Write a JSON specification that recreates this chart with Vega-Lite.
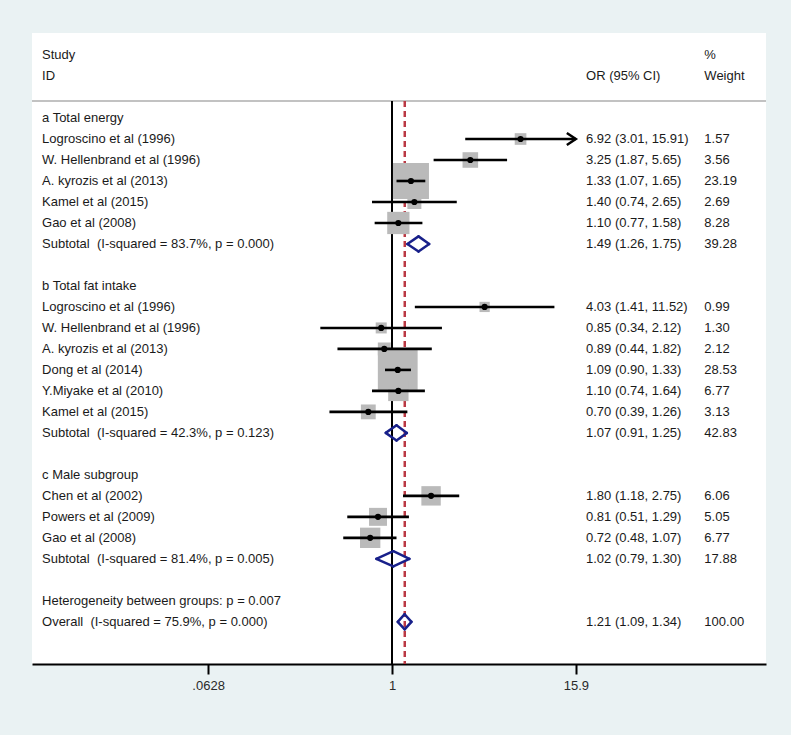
{
  "$schema": "https://vega.github.io/schema/vega-lite/v6.json",
  "width": 734,
  "height": 631,
  "autosize": {"type": "none"},
  "padding": {"left": 32, "top": 33, "right": 25, "bottom": 71},
  "background": "#eaf2f3",
  "config": {
    "view": {"fill": "white", "stroke": null},
    "text": {"font": "Liberation Sans", "fontSize": 13, "color": "#1a1a1a", "align": "left", "baseline": "middle"}
  },
  "data": {
    "values": [
      {"row": -3, "label": "Study", "ci": "", "wt": "%", "kind": "head"},
      {"row": -2, "label": "ID", "ci": "OR (95% CI)", "wt": "Weight", "kind": "head"},
      {"row": 0, "label": "a Total energy", "ci": "", "wt": "", "kind": "group"},
      {"row": 1, "label": "Logroscino et al (1996)", "est": 6.92, "lo": 3.01, "hi": 15.91, "w": 1.57, "ci": "6.92 (3.01, 15.91)", "wt": "1.57", "kind": "study"},
      {"row": 2, "label": "W. Hellenbrand et al (1996)", "est": 3.25, "lo": 1.87, "hi": 5.65, "w": 3.56, "ci": "3.25 (1.87, 5.65)", "wt": "3.56", "kind": "study"},
      {"row": 3, "label": "A. kyrozis et al (2013)", "est": 1.33, "lo": 1.07, "hi": 1.65, "w": 23.19, "ci": "1.33 (1.07, 1.65)", "wt": "23.19", "kind": "study"},
      {"row": 4, "label": "Kamel et al (2015)", "est": 1.40, "lo": 0.74, "hi": 2.65, "w": 2.69, "ci": "1.40 (0.74, 2.65)", "wt": "2.69", "kind": "study"},
      {"row": 5, "label": "Gao et al (2008)", "est": 1.10, "lo": 0.77, "hi": 1.58, "w": 8.28, "ci": "1.10 (0.77, 1.58)", "wt": "8.28", "kind": "study"},
      {"row": 6, "label": "Subtotal\u00a0 (I-squared = 83.7%, p = 0.000)", "est": 1.49, "lo": 1.26, "hi": 1.75, "w": 39.28, "ci": "1.49 (1.26, 1.75)", "wt": "39.28", "kind": "subtotal"},
      {"row": 8, "label": "b Total fat intake", "ci": "", "wt": "", "kind": "group"},
      {"row": 9, "label": "Logroscino et al (1996)", "est": 4.03, "lo": 1.41, "hi": 11.52, "w": 0.99, "ci": "4.03 (1.41, 11.52)", "wt": "0.99", "kind": "study"},
      {"row": 10, "label": "W. Hellenbrand et al (1996)", "est": 0.85, "lo": 0.34, "hi": 2.12, "w": 1.30, "ci": "0.85 (0.34, 2.12)", "wt": "1.30", "kind": "study"},
      {"row": 11, "label": "A. kyrozis et al (2013)", "est": 0.89, "lo": 0.44, "hi": 1.82, "w": 2.12, "ci": "0.89 (0.44, 1.82)", "wt": "2.12", "kind": "study"},
      {"row": 12, "label": "Dong et al (2014)", "est": 1.09, "lo": 0.90, "hi": 1.33, "w": 28.53, "ci": "1.09 (0.90, 1.33)", "wt": "28.53", "kind": "study"},
      {"row": 13, "label": "Y.Miyake et al (2010)", "est": 1.10, "lo": 0.74, "hi": 1.64, "w": 6.77, "ci": "1.10 (0.74, 1.64)", "wt": "6.77", "kind": "study"},
      {"row": 14, "label": "Kamel et al (2015)", "est": 0.70, "lo": 0.39, "hi": 1.26, "w": 3.13, "ci": "0.70 (0.39, 1.26)", "wt": "3.13", "kind": "study"},
      {"row": 15, "label": "Subtotal\u00a0 (I-squared = 42.3%, p = 0.123)", "est": 1.07, "lo": 0.91, "hi": 1.25, "w": 42.83, "ci": "1.07 (0.91, 1.25)", "wt": "42.83", "kind": "subtotal"},
      {"row": 17, "label": "c Male subgroup", "ci": "", "wt": "", "kind": "group"},
      {"row": 18, "label": "Chen et al (2002)", "est": 1.80, "lo": 1.18, "hi": 2.75, "w": 6.06, "ci": "1.80 (1.18, 2.75)", "wt": "6.06", "kind": "study"},
      {"row": 19, "label": "Powers et al (2009)", "est": 0.81, "lo": 0.51, "hi": 1.29, "w": 5.05, "ci": "0.81 (0.51, 1.29)", "wt": "5.05", "kind": "study"},
      {"row": 20, "label": "Gao et al (2008)", "est": 0.72, "lo": 0.48, "hi": 1.07, "w": 6.77, "ci": "0.72 (0.48, 1.07)", "wt": "6.77", "kind": "study"},
      {"row": 21, "label": "Subtotal\u00a0 (I-squared = 81.4%, p = 0.005)", "est": 1.02, "lo": 0.79, "hi": 1.30, "w": 17.88, "ci": "1.02 (0.79, 1.30)", "wt": "17.88", "kind": "subtotal"},
      {"row": 23, "label": "Heterogeneity between groups: p = 0.007", "ci": "", "wt": "", "kind": "het"},
      {"row": 24, "label": "Overall\u00a0 (I-squared = 75.9%, p = 0.000)", "est": 1.21, "lo": 1.09, "hi": 1.34, "w": 100, "ci": "1.21 (1.09, 1.34)", "wt": "100.00", "kind": "overall"}
    ]
  },
  "encoding": {
    "y": {"field": "row", "type": "quantitative", "axis": null,
          "scale": {"domain": [-4.05, 26.01], "reverse": true, "nice": false, "zero": false}}
  },
  "layer": [
    {
      "mark": {"type": "rule", "color": "#c2c2c2", "strokeWidth": 2},
      "encoding": {"y": {"datum": -0.81, "type": "quantitative"}}
    },
    {
      "mark": {"type": "rule", "color": "#000000", "strokeWidth": 1.6},
      "encoding": {
        "x": {"datum": 1, "type": "quantitative",
              "scale": {"type": "log", "domain": [0.004436, 278.2], "nice": false},
              "axis": {"values": [0.0628, 1, 15.9],
                       "labelExpr": "datum.value < 0.1 ? '.0628' : (datum.value < 2 ? '1' : '15.9')",
                       "title": null, "grid": false, "domainColor": "#000000", "domainWidth": 2.2,
                       "tickColor": "#000000", "tickWidth": 2, "tickSize": 10,
                       "labelFont": "Liberation Sans", "labelFontSize": 13, "labelColor": "#2a2a2a",
                       "labelPadding": 5, "labelFlush": false}},
        "y": {"datum": -0.81, "type": "quantitative"},
        "y2": {"datum": 26.01}
      }
    },
    {
      "mark": {"type": "rule", "color": "#b83a46", "strokeWidth": 1.4, "strokeDash": [6, 4]},
      "encoding": {
        "x": {"datum": 1.21, "type": "quantitative"},
        "y": {"datum": -0.81, "type": "quantitative"},
        "y2": {"datum": 26.01}
      }
    },
    {
      "transform": [{"filter": "datum.kind == 'study'"}],
      "mark": {"type": "point", "shape": "square", "filled": true, "color": "#bababa", "opacity": 1, "strokeWidth": 0},
      "encoding": {
        "x": {"field": "est", "type": "quantitative"},
        "size": {"field": "w", "type": "quantitative", "legend": null,
                 "scale": {"type": "linear", "domain": [0, 28.53], "range": [51.7, 1582.6], "zero": false}}
      }
    },
    {
      "transform": [{"filter": "datum.kind == 'study' && datum.hi <= 15.9"}],
      "mark": {"type": "rule", "color": "#000000", "strokeWidth": 2.6},
      "encoding": {
        "x": {"field": "lo", "type": "quantitative"},
        "x2": {"field": "hi"}
      }
    },
    {
      "transform": [{"filter": "datum.kind == 'study' && datum.hi > 15.9"}],
      "mark": {"type": "rule", "color": "#000000", "strokeWidth": 2.6},
      "encoding": {
        "x": {"field": "lo", "type": "quantitative"},
        "x2": {"datum": 15.9}
      }
    },
    {
      "transform": [{"filter": "datum.kind == 'study' && datum.hi > 15.9"}],
      "mark": {"type": "point", "shape": "M-1,-0.667L0,0L-1,0.667", "filled": false, "color": "#000000",
               "strokeWidth": 2.5, "size": 324, "opacity": 1, "strokeJoin": "miter"},
      "encoding": {
        "x": {"datum": 15.9, "type": "quantitative"}
      }
    },
    {
      "transform": [{"filter": "datum.kind == 'study'"}],
      "mark": {"type": "point", "shape": "circle", "filled": true, "color": "#000000", "opacity": 1, "size": 38},
      "encoding": {
        "x": {"field": "est", "type": "quantitative"}
      }
    },
    {
      "transform": [{"filter": "datum.kind == 'subtotal' || datum.kind == 'overall'"}],
      "mark": {"type": "rule", "color": "#18208a", "strokeWidth": 2.5, "strokeCap": "round", "y2Offset": -7.6},
      "encoding": {
        "x": {"field": "lo", "type": "quantitative"},
        "x2": {"field": "est"},
        "y2": {"field": "row"}
      }
    },
    {
      "transform": [{"filter": "datum.kind == 'subtotal' || datum.kind == 'overall'"}],
      "mark": {"type": "rule", "color": "#18208a", "strokeWidth": 2.5, "strokeCap": "round", "y2Offset": 7.6},
      "encoding": {
        "x": {"field": "lo", "type": "quantitative"},
        "x2": {"field": "est"},
        "y2": {"field": "row"}
      }
    },
    {
      "transform": [{"filter": "datum.kind == 'subtotal' || datum.kind == 'overall'"}],
      "mark": {"type": "rule", "color": "#18208a", "strokeWidth": 2.5, "strokeCap": "round", "yOffset": -7.6},
      "encoding": {
        "x": {"field": "est", "type": "quantitative"},
        "x2": {"field": "hi"},
        "y2": {"field": "row"}
      }
    },
    {
      "transform": [{"filter": "datum.kind == 'subtotal' || datum.kind == 'overall'"}],
      "mark": {"type": "rule", "color": "#18208a", "strokeWidth": 2.5, "strokeCap": "round", "yOffset": 7.6},
      "encoding": {
        "x": {"field": "est", "type": "quantitative"},
        "x2": {"field": "hi"},
        "y2": {"field": "row"}
      }
    },
    {
      "mark": {"type": "text"},
      "encoding": {
        "x": {"datum": 0.005159, "type": "quantitative"},
        "text": {"field": "label", "type": "nominal"}
      }
    },
    {
      "transform": [{"filter": "datum.ci != ''"}],
      "mark": {"type": "text"},
      "encoding": {
        "x": {"datum": 18.535, "type": "quantitative"},
        "text": {"field": "ci", "type": "nominal"}
      }
    },
    {
      "transform": [{"filter": "datum.wt != ''"}],
      "mark": {"type": "text"},
      "encoding": {
        "x": {"datum": 110, "type": "quantitative"},
        "text": {"field": "wt", "type": "nominal"}
      }
    }
  ]
}
